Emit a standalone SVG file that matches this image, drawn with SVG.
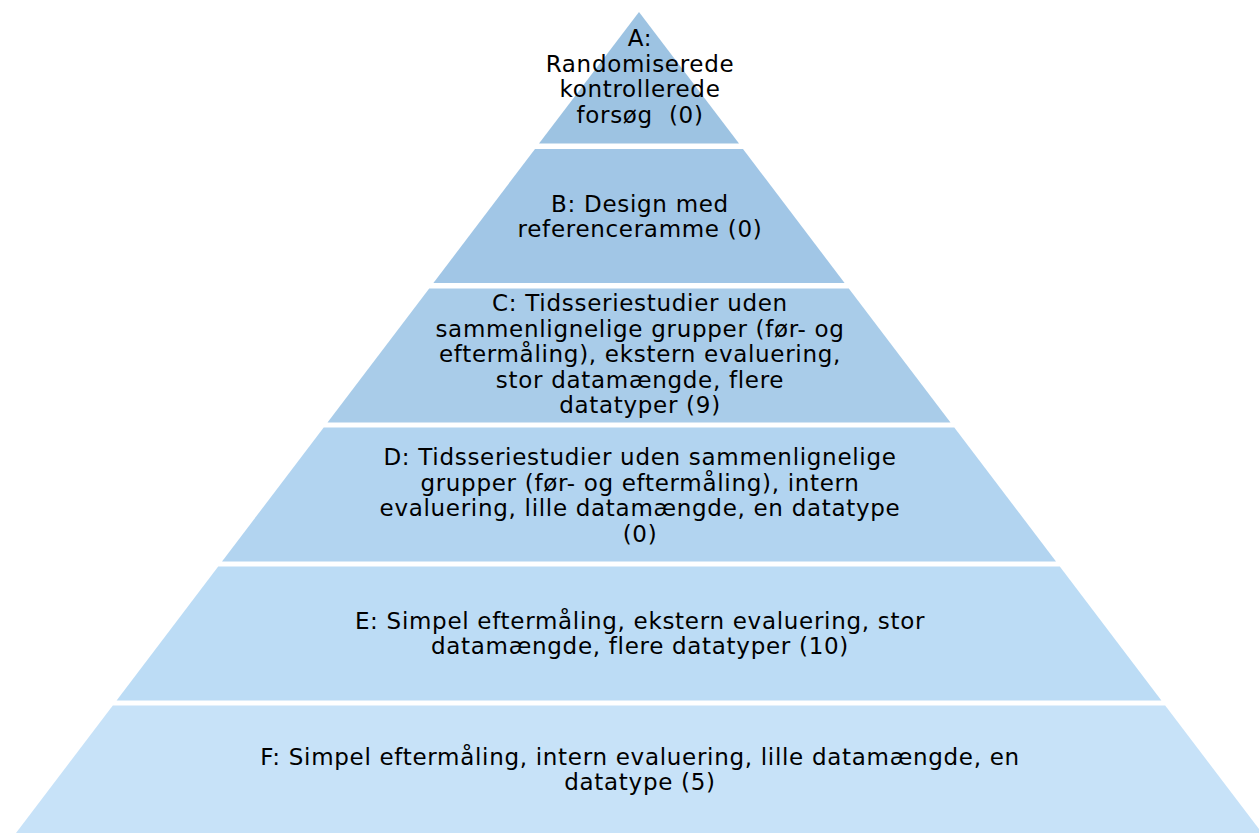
<svg xmlns="http://www.w3.org/2000/svg" width="1259" height="833" viewBox="0 0 1259 833">
<style>
  text { font-family: "DejaVu Sans", Verdana, sans-serif; font-size: 23px; letter-spacing: 0.7px; fill: #000; text-anchor: middle; white-space: pre; }
</style>
<rect width="1259" height="833" fill="#ffffff"/>
<g id="layer-a">
  <polygon points="639,12 739,143.5 539,143.5" fill="#9dc3e2"/>
  <text x="640" y="46">A:</text>
  <text x="640" y="71.5">Randomiserede</text>
  <text x="640" y="97">kontrollerede</text>
  <text x="640" y="122.5" xml:space="preserve">forsøg  (0)</text>
</g>
<g id="layer-b">
  <polygon points="535,149 743,149 844.6,283 433.4,283" fill="#a1c6e6"/>
  <text x="640" y="211.5">B: Design med</text>
  <text x="640" y="237">referenceramme (0)</text>
</g>
<g id="layer-c">
  <polygon points="429.2,288.5 848.8,288.5 950.5,422.5 327.5,422.5" fill="#a9cce9"/>
  <text x="640" y="311">C: Tidsseriestudier uden</text>
  <text x="640" y="336.5">sammenlignelige grupper (før- og</text>
  <text x="640" y="362">eftermåling), ekstern evaluering,</text>
  <text x="640" y="387.5">stor datamængde, flere</text>
  <text x="640" y="413">datatyper (9)</text>
</g>
<g id="layer-d">
  <polygon points="323.7,427.5 954.3,427.5 1056,561.5 222,561.5" fill="#b2d4f0"/>
  <text x="640" y="465">D: Tidsseriestudier uden sammenlignelige</text>
  <text x="640" y="490.5">grupper (før- og eftermåling), intern</text>
  <text x="640" y="516">evaluering, lille datamængde, en datatype</text>
  <text x="640" y="541.5">(0)</text>
</g>
<g id="layer-e">
  <polygon points="218.2,566.5 1059.8,566.5 1161.4,700.5 116.6,700.5" fill="#bcdcf5"/>
  <text x="640" y="628.5">E: Simpel eftermåling, ekstern evaluering, stor</text>
  <text x="640" y="654">datamængde, flere datatyper (10)</text>
</g>
<g id="layer-f">
  <polygon points="112.8,705.5 1165.2,705.5 1262,833 16,833" fill="#c7e2f8"/>
  <text x="640" y="764.5">F: Simpel eftermåling, intern evaluering, lille datamængde, en</text>
  <text x="640" y="790">datatype (5)</text>
</g>
<g id="connectors"></g>
</svg>
